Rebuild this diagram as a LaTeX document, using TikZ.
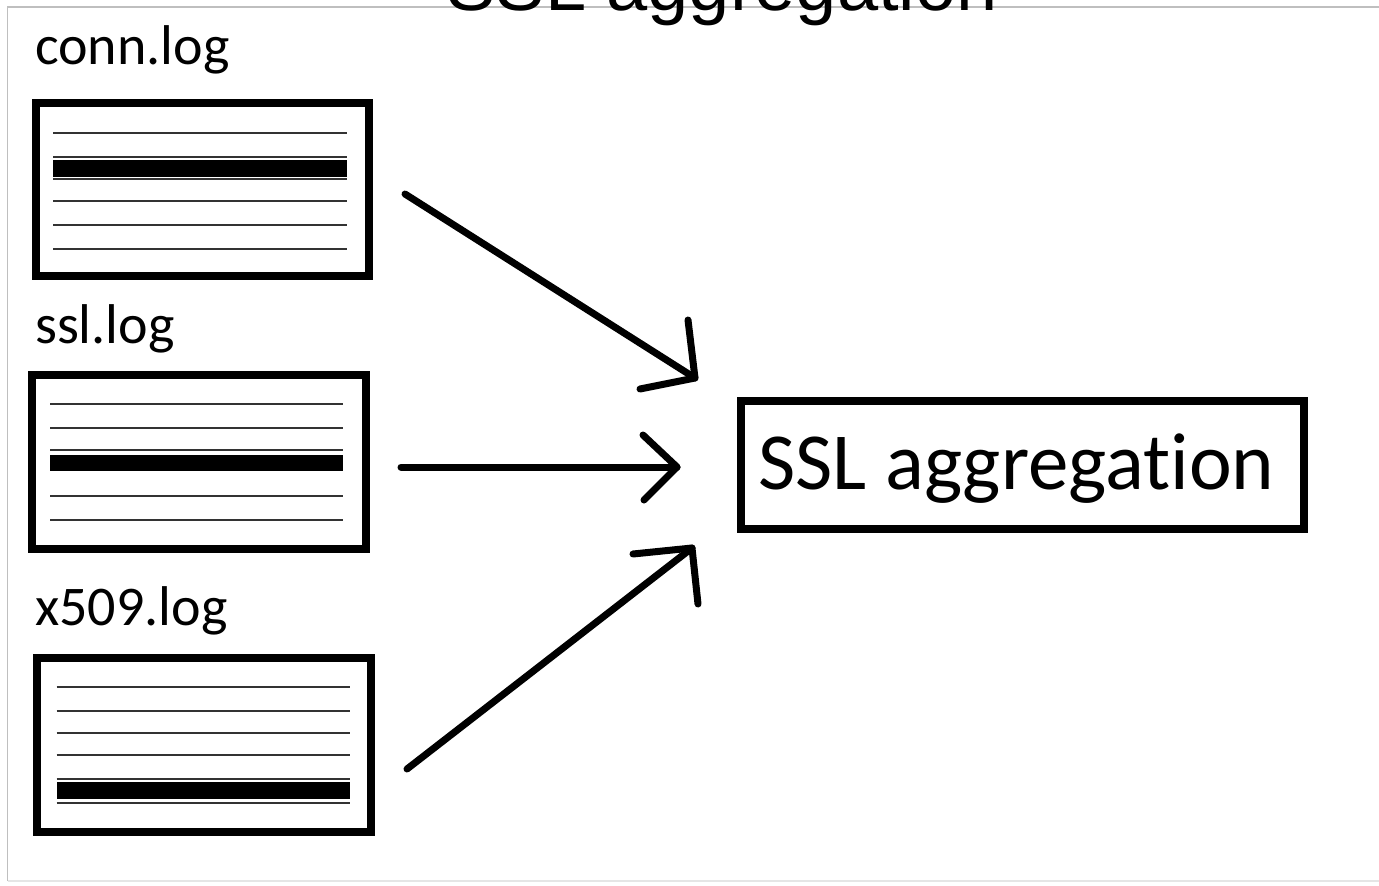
\documentclass[tikz,border=0pt]{standalone}
\usepackage{fontspec}
\setmainfont{Carlito}[Ligatures=NoCommon]
\newfontfamily\titlefont{Liberation Sans}
\begin{document}
\begin{tikzpicture}[x=1pt,y=-1pt,
  logbox/.style={draw=black, line width=8pt, rectangle, inner sep=0pt, fill=white},
  rule/.style={draw=black!80, line width=2.2pt},
  bar/.style={fill=black},
  flow/.style={line width=7pt, line cap=round, line join=round},
  label/.style={anchor=base west, inner sep=0pt, font=\fontsize{56}{62}\selectfont},
]
\useasboundingbox (0,0) rectangle (1379,886);
\fill[white] (0,0) rectangle (1379,886);

% page frame
\draw[black!25, line width=1.5pt] (7.5,881) -- (7.5,7) -- (1379,7);
\draw[black!10, line width=1.5pt] (7.5,881) -- (1379,881);

% title, partly above the page edge
\node[anchor=base, inner sep=0pt, font=\titlefont\fontsize{74}{80}\selectfont] (title) at (722,10) {SSL aggregation};

% log file labels
\node[label] (connlbl) at (35,64) {conn.log};
\node[label] (ssllbl) at (35,343) {ssl.log};
\node[label] (x509lbl) at (35,625) {x509.log};

% conn.log sheet
\node[logbox, minimum width=333pt, minimum height=173.5pt] (conn) at (202.5,189.25) {};
\foreach \y in {133,157,179,201,225,249} \draw[rule] (53,\y) -- (347,\y);
\fill[bar] (53,159.5) rectangle (347,176.5);

% ssl.log sheet
\node[logbox, minimum width=334.5pt, minimum height=174pt] (ssl) at (198.9,462) {};
\foreach \y in {404,428,450,496,520} \draw[rule] (50,\y) -- (343,\y);
\fill[bar] (50,455) rectangle (343,471);

% x509.log sheet
\node[logbox, minimum width=334.5pt, minimum height=174pt] (x509) at (203.9,745) {};
\foreach \y in {687,711,733,755,779,803} \draw[rule] (56.5,\y) -- (349.5,\y);
\fill[bar] (56.5,782) rectangle (349.5,798.5);

% aggregation box
\node[logbox, minimum width=562.5pt, minimum height=128pt] (agg) at (1022.25,465) {};
\node[anchor=base, inner sep=0pt, font=\fontsize{81}{88}\selectfont] (aggtxt) at (1016.5,489) {SSL aggregation};

% hand-drawn arrows from each log towards the aggregation
\coordinate (s1) at (405,194);  \coordinate (t1) at (695,378);
\coordinate (l1) at (688,320);  \coordinate (r1) at (640,389);
\coordinate (s2) at (401,467);  \coordinate (t2) at (677,467);
\coordinate (l2) at (643,435);  \coordinate (r2) at (644,500);
\coordinate (s3) at (407,769);  \coordinate (t3) at (692,548);
\coordinate (l3) at (633,554);  \coordinate (r3) at (698,604);

\draw[flow] (s1) -- (t1);  \draw[flow] (l1) -- (t1) -- (r1);
\draw[flow] (s2) -- (t2);  \draw[flow] (l2) -- (t2) -- (r2);
\draw[flow] (s3) -- (t3);  \draw[flow] (l3) -- (t3) -- (r3);
\end{tikzpicture}
\end{document}
